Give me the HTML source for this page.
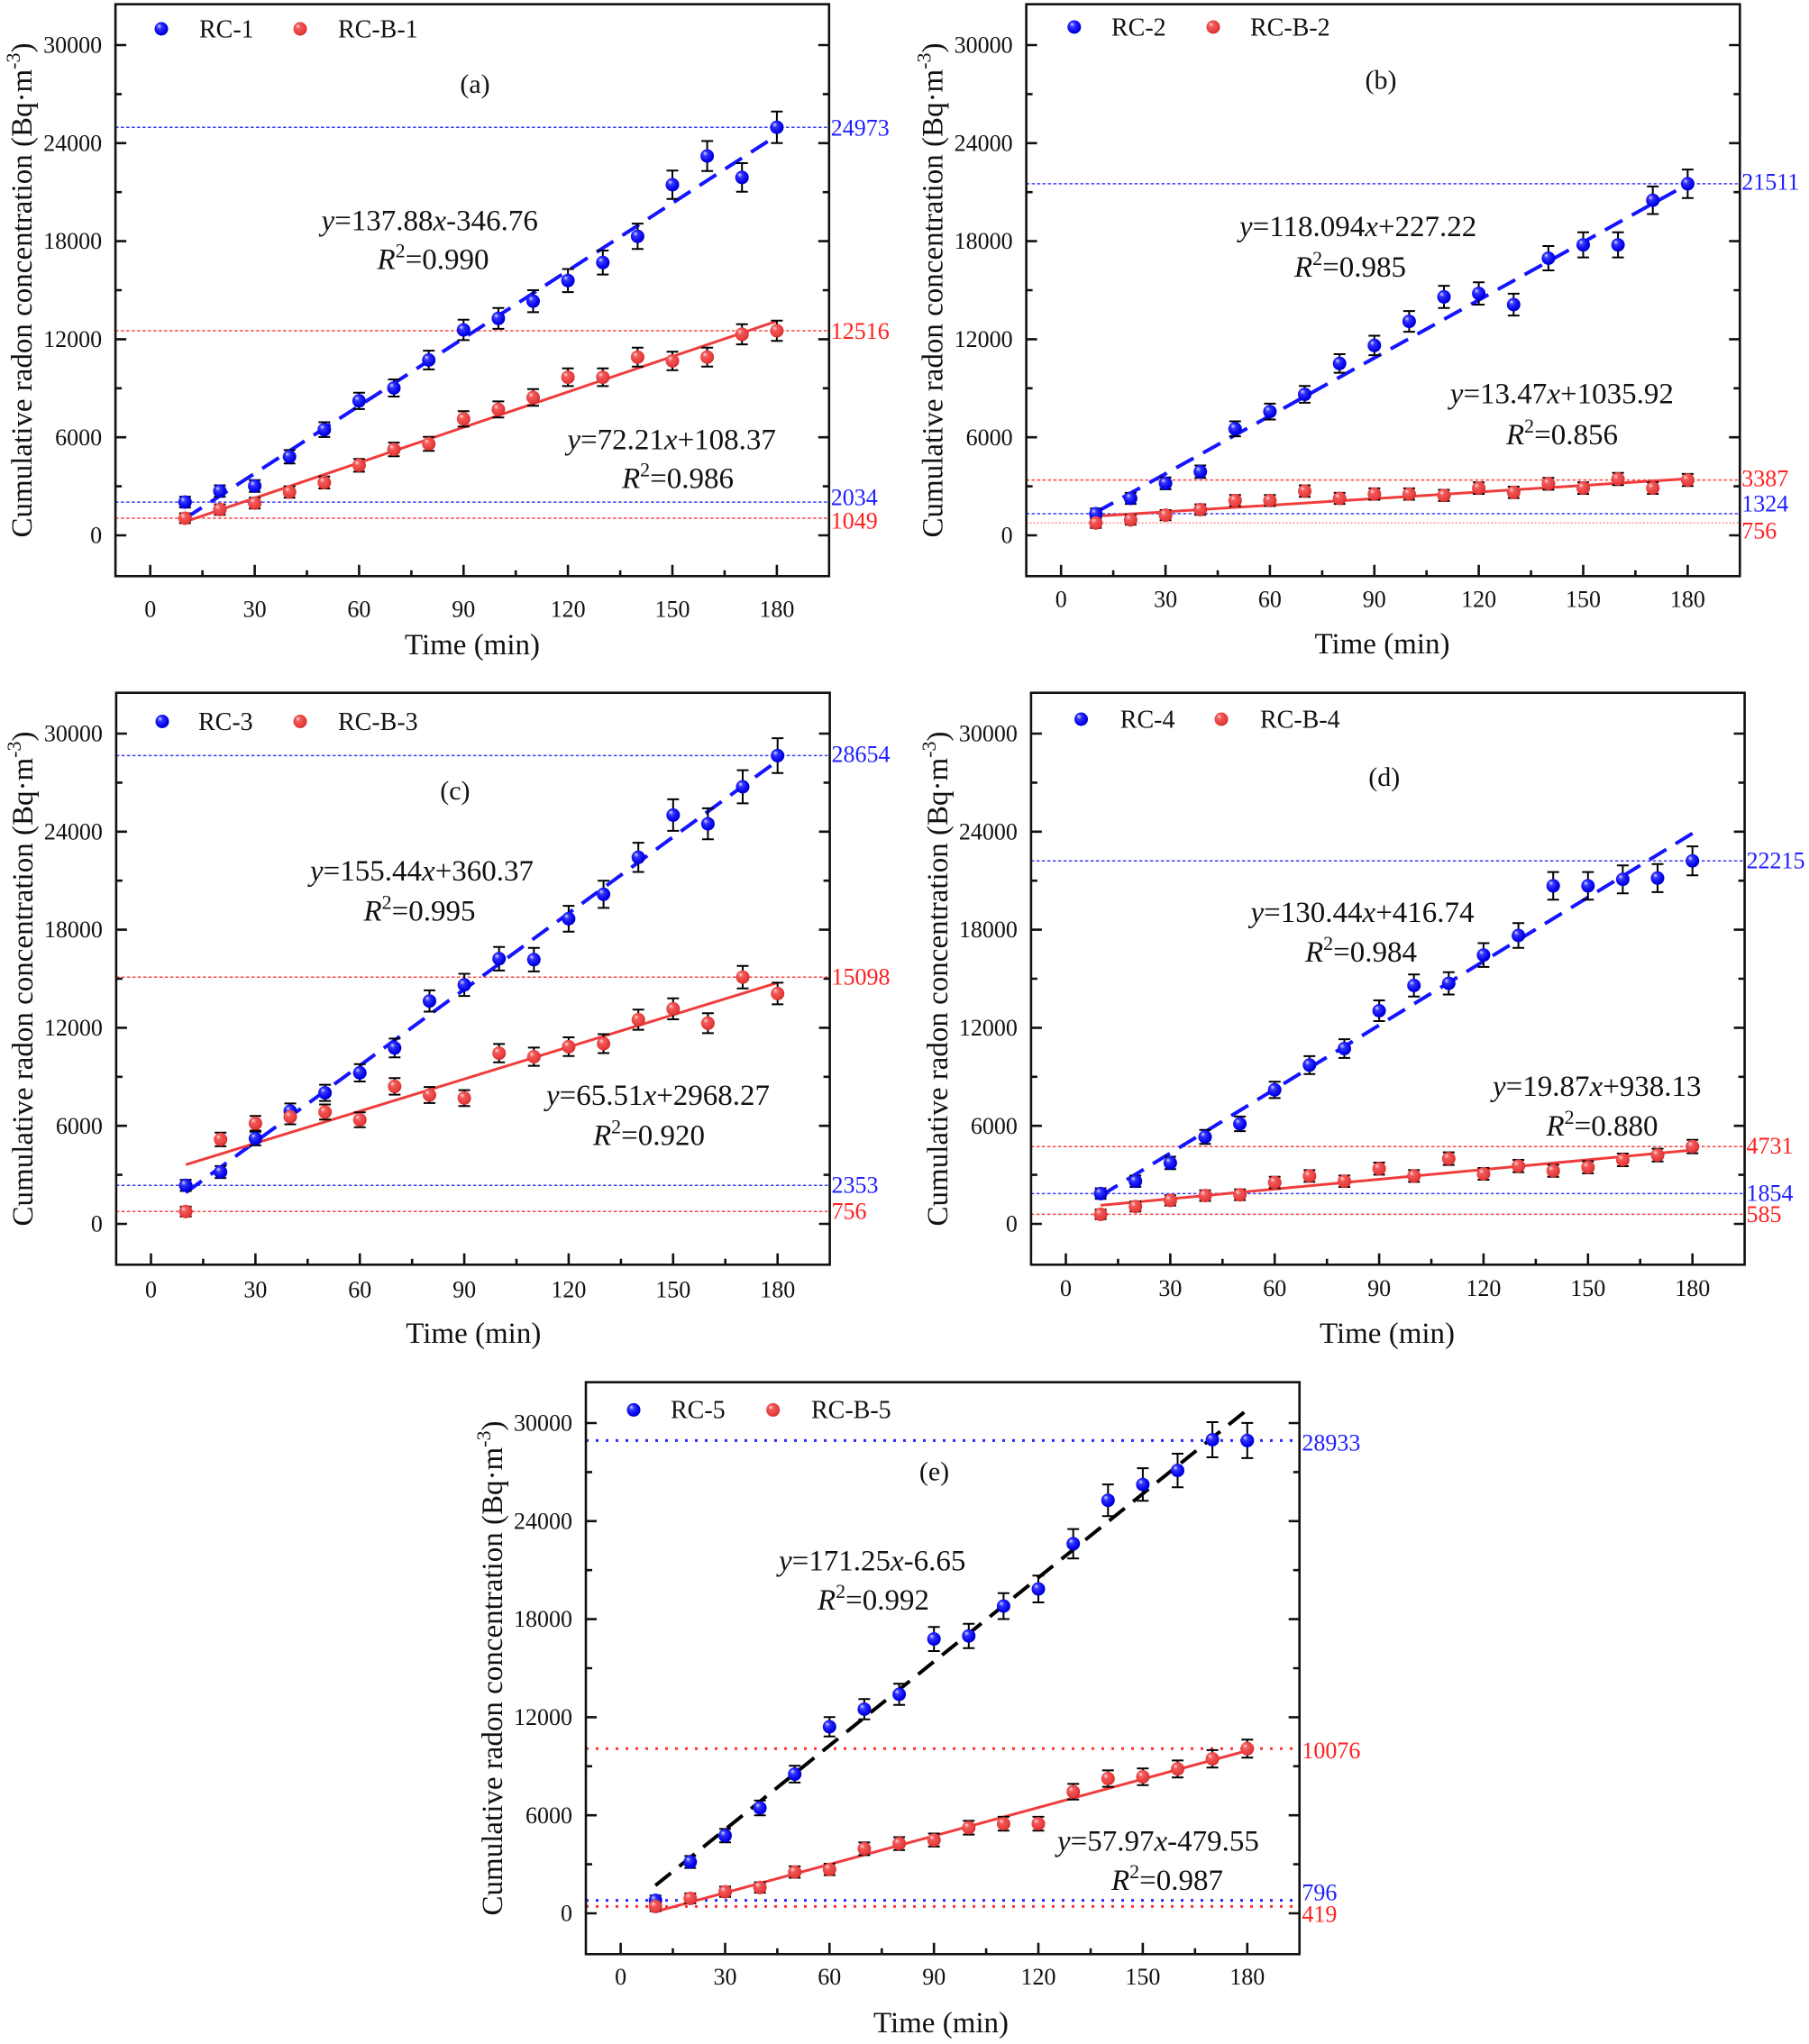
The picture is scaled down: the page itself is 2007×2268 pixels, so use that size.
<!DOCTYPE html>
<html><head><meta charset="utf-8"><style>
html,body{margin:0;padding:0;background:#fff;}
svg{display:block;font-family:"Liberation Serif","Times New Roman",serif;}
.tk{font-size:26px;fill:#111;}
.ttl{font-size:33px;fill:#111;}
.eq{font-size:33px;fill:#111;}
.lg{font-size:28px;fill:#111;}
.pl{font-size:30px;fill:#111;}
.rb{font-size:26px;fill:#1e1eff;}
.rr{font-size:26px;fill:#ff2020;}
.eb{fill:none;stroke:#000;stroke-width:2;}
.rfb{stroke:#3a3aff;stroke-width:1.5;stroke-dasharray:3.5 2.5;}
.rfr{stroke:#ff4040;stroke-width:1.5;stroke-dasharray:3.5 2.5;}
.rfb2{stroke:#2a2aff;stroke-width:3;stroke-dasharray:3 8;}
.rfr2{stroke:#ff3030;stroke-width:3;stroke-dasharray:3 8;}
.tb{stroke:#1414ff;stroke-width:4;stroke-dasharray:22 12;fill:none;}
.tk2{stroke:#000;stroke-width:4;stroke-dasharray:22 12;fill:none;}
.tr{stroke:#f03c3c;stroke-width:3;fill:none;}
</style></head><body>
<svg width="2007" height="2268" viewBox="0 0 2007 2268" xmlns="http://www.w3.org/2000/svg">
<defs>
<radialGradient id="gb" cx="0.45" cy="0.45" r="0.6" fx="0.32" fy="0.28">
<stop offset="0" stop-color="#e0e0ff"/><stop offset="0.3" stop-color="#3535ff"/><stop offset="0.8" stop-color="#0000e8"/><stop offset="1" stop-color="#0000a8"/>
</radialGradient>
<radialGradient id="gr" cx="0.45" cy="0.45" r="0.6" fx="0.32" fy="0.28">
<stop offset="0" stop-color="#ffe0e0"/><stop offset="0.3" stop-color="#f25a5a"/><stop offset="0.8" stop-color="#e63a3a"/><stop offset="1" stop-color="#b82020"/>
</radialGradient>
<g id="axes">
<rect x="-38.6" y="-589.3" width="791.7" height="634.6" fill="none" stroke="#111" stroke-width="2.6"/>
<path fill="none" stroke="#111" stroke-width="2.6" d="M-38.6 0h12M-38.6 -108.8h12M-38.6 -217.6h12M-38.6 -326.4h12M-38.6 -435.2h12M-38.6 -544h12M-38.6 -54.4h7M-38.6 -163.2h7M-38.6 -272h7M-38.6 -380.8h7M-38.6 -489.6h7M753.1 0h-12M753.1 -108.8h-12M753.1 -217.6h-12M753.1 -326.4h-12M753.1 -435.2h-12M753.1 -544h-12M753.1 -54.4h-7M753.1 -163.2h-7M753.1 -272h-7M753.1 -380.8h-7M753.1 -489.6h-7M0 45.3v-12.5M115.9 45.3v-12.5M231.7 45.3v-12.5M347.6 45.3v-12.5M463.4 45.3v-12.5M579.3 45.3v-12.5M695.2 45.3v-12.5M57.9 45.3v-6.5M173.8 45.3v-6.5M289.7 45.3v-6.5M405.5 45.3v-6.5M521.4 45.3v-6.5M637.2 45.3v-6.5"/>
</g>
</defs>
<rect width="2007" height="2268" fill="#fff"/>

<!-- ================= PANEL A ================= -->
<g transform="translate(166.7,594)">
<line class="rfb" x1="-38.6" x2="753.1" y1="-452.8" y2="-452.8"/>
<line class="rfr" x1="-38.6" x2="753.1" y1="-227" y2="-227"/>
<line class="rfb" x1="-38.6" x2="753.1" y1="-36.9" y2="-36.9"/>
<line class="rfr" x1="-38.6" x2="753.1" y1="-19" y2="-19"/>
<use href="#axes"/>
<g class="tk" text-anchor="end"><text x="-53.6" y="8.6">0</text><text x="-53.6" y="-100.2">6000</text><text x="-53.6" y="-209">12000</text><text x="-53.6" y="-317.8">18000</text><text x="-53.6" y="-426.6">24000</text><text x="-53.6" y="-535.4">30000</text></g>
<g class="tk" text-anchor="middle"><text x="0" y="90.6">0</text><text x="115.9" y="90.6">30</text><text x="231.7" y="90.6">60</text><text x="347.6" y="90.6">90</text><text x="463.4" y="90.6">120</text><text x="579.3" y="90.6">150</text><text x="695.2" y="90.6">180</text></g>
<text class="ttl" x="357.3" y="132" text-anchor="middle">Time (min)</text>
<text class="ttl" transform="translate(-131.6,-272) rotate(-90)" text-anchor="middle">Cumulative radon concentration (Bq·m<tspan font-size="22" dy="-13">-3</tspan><tspan dy="13">)</tspan></text>
<text class="pl" x="360.3" y="-491" text-anchor="middle">(a)</text>
<circle cx="12.3" cy="-562" r="7.5" fill="url(#gb)"/><text class="lg" x="54.3" y="-552.7">RC-1</text>
<circle cx="166.3" cy="-562" r="7.5" fill="url(#gr)"/><text class="lg" x="208.3" y="-552.7">RC-B-1</text>
<text class="eq" x="189.8" y="-338.5"><tspan font-style="italic">y</tspan>=137.88<tspan font-style="italic">x</tspan>-346.76</text>
<text class="eq" x="251.8" y="-295.6"><tspan font-style="italic">R</tspan><tspan font-size="22" dy="-13">2</tspan><tspan dy="13">=0.990</tspan></text>
<text class="eq" x="462.7" y="-95.3"><tspan font-style="italic">y</tspan>=72.21<tspan font-style="italic">x</tspan>+108.37</text>
<text class="eq" x="523.3" y="-52.4"><tspan font-style="italic">R</tspan><tspan font-size="22" dy="-13">2</tspan><tspan dy="13">=0.986</tspan></text>
<text class="rb" x="755" y="-443.4">24973</text><text class="rr" x="755" y="-217.9">12516</text><text class="rb" x="755" y="-33.4">2034</text><text class="rr" x="755" y="-7.4">1049</text>
<path class="tb" d="M38.6 -18.7L695.2 -443.7"/>
<path class="tr" d="M38.6 -15.1L695.2 -237.7"/>
<path class="eb" d="M38.6 -42.9v12m-6.5 0h13m-13 -12h13M77.2 -55.5v12.8m-6.5 0h13m-13 -12.8h13M115.9 -61.3v13m-6.5 0h13m-13 -13h13M154.5 -94.6v14.8m-6.5 0h13m-13 -14.8h13M193.1 -125.5v16.4m-6.5 0h13m-13 -16.4h13M231.7 -158.3v18.2m-6.5 0h13m-13 -18.2h13M270.3 -173v19m-6.5 0h13m-13 -19h13M309 -204.9v20.8m-6.5 0h13m-13 -20.8h13M347.6 -239.2v22.6m-6.5 0h13m-13 -22.6h13M386.2 -252.3v23.2m-6.5 0h13m-13 -23.2h13M424.8 -272v24.4m-6.5 0h13m-13 -24.4h13M463.4 -295.5v25.6m-6.5 0h13m-13 -25.6h13M502.1 -316v26.6m-6.5 0h13m-13 -26.6h13M540.7 -345.9v28.2m-6.5 0h13m-13 -28.2h13M579.3 -404.7v31.4m-6.5 0h13m-13 -31.4h13M617.9 -437.5v33.2m-6.5 0h13m-13 -33.2h13M656.5 -413v31.8m-6.5 0h13m-13 -31.8h13M695.2 -470.3v35m-6.5 0h13m-13 -35h13"/>
<path class="eb" d="M38.6 -24.5v11m-6.5 0h13m-13 -11h13M77.2 -34.4v11.6m-6.5 0h13m-13 -11.6h13M115.9 -41.8v12m-6.5 0h13m-13 -12h13M154.5 -54.4v12.6m-6.5 0h13m-13 -12.6h13M193.1 -65.2v13.2m-6.5 0h13m-13 -13.2h13M231.7 -84.8v14.2m-6.5 0h13m-13 -14.2h13M270.3 -102.9v15.2m-6.5 0h13m-13 -15.2h13M309 -109.3v15.6m-6.5 0h13m-13 -15.6h13M347.6 -137.8v17.2m-6.5 0h13m-13 -17.2h13M386.2 -148.6v17.8m-6.5 0h13m-13 -17.8h13M424.8 -162.2v18.4m-6.5 0h13m-13 -18.4h13M463.4 -185.2v19.6m-6.5 0h13m-13 -19.6h13M502.1 -185.2v19.6m-6.5 0h13m-13 -19.6h13M540.7 -208.3v21m-6.5 0h13m-13 -21h13M579.3 -203.8v20.6m-6.5 0h13m-13 -20.6h13M617.9 -208.3v21m-6.5 0h13m-13 -21h13M656.5 -234.3v22.4m-6.5 0h13m-13 -22.4h13M695.2 -238.3v22.6m-6.5 0h13m-13 -22.6h13"/>
<g fill="url(#gb)"><circle cx="38.6" cy="-36.9" r="7.5"/><circle cx="77.2" cy="-49.1" r="7.5"/><circle cx="115.9" cy="-54.8" r="7.5"/><circle cx="154.5" cy="-87.2" r="7.5"/><circle cx="193.1" cy="-117.3" r="7.5"/><circle cx="231.7" cy="-149.2" r="7.5"/><circle cx="270.3" cy="-163.5" r="7.5"/><circle cx="309" cy="-194.5" r="7.5"/><circle cx="347.6" cy="-227.9" r="7.5"/><circle cx="386.2" cy="-240.7" r="7.5"/><circle cx="424.8" cy="-259.8" r="7.5"/><circle cx="463.4" cy="-282.7" r="7.5"/><circle cx="502.1" cy="-302.7" r="7.5"/><circle cx="540.7" cy="-331.8" r="7.5"/><circle cx="579.3" cy="-389" r="7.5"/><circle cx="617.9" cy="-420.9" r="7.5"/><circle cx="656.5" cy="-397.1" r="7.5"/><circle cx="695.2" cy="-452.8" r="7.5"/></g>
<g fill="url(#gr)"><circle cx="38.6" cy="-19" r="7.5"/><circle cx="77.2" cy="-28.6" r="7.5"/><circle cx="115.9" cy="-35.8" r="7.5"/><circle cx="154.5" cy="-48.1" r="7.5"/><circle cx="193.1" cy="-58.6" r="7.5"/><circle cx="231.7" cy="-77.7" r="7.5"/><circle cx="270.3" cy="-95.3" r="7.5"/><circle cx="309" cy="-101.5" r="7.5"/><circle cx="347.6" cy="-129.2" r="7.5"/><circle cx="386.2" cy="-139.7" r="7.5"/><circle cx="424.8" cy="-153" r="7.5"/><circle cx="463.4" cy="-175.4" r="7.5"/><circle cx="502.1" cy="-175.4" r="7.5"/><circle cx="540.7" cy="-197.8" r="7.5"/><circle cx="579.3" cy="-193.5" r="7.5"/><circle cx="617.9" cy="-197.8" r="7.5"/><circle cx="656.5" cy="-223.1" r="7.5"/><circle cx="695.2" cy="-227" r="7.5"/></g>
</g>

<!-- ================= PANEL B ================= -->
<g transform="translate(1177.2,594)">
<line class="rfb" x1="-38.6" x2="753.1" y1="-390.1" y2="-390.1"/>
<line class="rfr" x1="-38.6" x2="753.1" y1="-61.4" y2="-61.4"/>
<line class="rfb" x1="-38.6" x2="753.1" y1="-24" y2="-24"/>
<line class="rfr" x1="-38.6" x2="753.1" y1="-13.7" y2="-13.7" style="stroke-dasharray:2 2;opacity:0.6"/>
<use href="#axes"/>
<g class="tk" text-anchor="end"><text x="-53.6" y="8.6">0</text><text x="-53.6" y="-100.2">6000</text><text x="-53.6" y="-209">12000</text><text x="-53.6" y="-317.8">18000</text><text x="-53.6" y="-426.6">24000</text><text x="-53.6" y="-535.4">30000</text></g>
<g class="tk" text-anchor="middle"><text x="0" y="79.6">0</text><text x="115.9" y="79.6">30</text><text x="231.7" y="79.6">60</text><text x="347.6" y="79.6">90</text><text x="463.4" y="79.6">120</text><text x="579.3" y="79.6">150</text><text x="695.2" y="79.6">180</text></g>
<text class="ttl" x="356.3" y="131" text-anchor="middle">Time (min)</text>
<text class="ttl" transform="translate(-131.6,-272) rotate(-90)" text-anchor="middle">Cumulative radon concentration (Bq·m<tspan font-size="22" dy="-13">-3</tspan><tspan dy="13">)</tspan></text>
<text class="pl" x="354.8" y="-495.4" text-anchor="middle">(b)</text>
<circle cx="14.6" cy="-564" r="7.5" fill="url(#gb)"/><text class="lg" x="55.8" y="-554.7">RC-2</text>
<circle cx="168.8" cy="-564" r="7.5" fill="url(#gr)"/><text class="lg" x="209.8" y="-554.7">RC-B-2</text>
<text class="eq" x="197.8" y="-332"><tspan font-style="italic">y</tspan>=118.094<tspan font-style="italic">x</tspan>+227.22</text>
<text class="eq" x="258.8" y="-287"><tspan font-style="italic">R</tspan><tspan font-size="22" dy="-13">2</tspan><tspan dy="13">=0.985</tspan></text>
<text class="eq" x="431.6" y="-146.5"><tspan font-style="italic">y</tspan>=13.47<tspan font-style="italic">x</tspan>+1035.92</text>
<text class="eq" x="493.8" y="-101"><tspan font-style="italic">R</tspan><tspan font-size="22" dy="-13">2</tspan><tspan dy="13">=0.856</tspan></text>
<text class="rb" x="755" y="-383.4">21511</text><text class="rr" x="755" y="-54.4">3387</text><text class="rb" x="755" y="-26.4">1324</text><text class="rr" x="755" y="3.6">756</text>
<path class="tb" d="M38.6 -25.5L695.2 -389.6"/>
<path class="tr" d="M38.6 -21.2L695.2 -62.7"/>
<path class="eb" d="M38.6 -29.7v11.4m-6.5 0h13m-13 -11.4h13M77.2 -47.1v12.2m-6.5 0h13m-13 -12.2h13M115.9 -64.3v13.2m-6.5 0h13m-13 -13.2h13M154.5 -77.5v13.8m-6.5 0h13m-13 -13.8h13M193.1 -126.5v16.6m-6.5 0h13m-13 -16.6h13M231.7 -146.1v17.6m-6.5 0h13m-13 -17.6h13M270.3 -165.7v18.6m-6.5 0h13m-13 -18.6h13M309 -201v20.6m-6.5 0h13m-13 -20.6h13M347.6 -221.5v21.6m-6.5 0h13m-13 -21.6h13M386.2 -248.9v23m-6.5 0h13m-13 -23h13M424.8 -276.9v24.6m-6.5 0h13m-13 -24.6h13M463.4 -280.8v24.8m-6.5 0h13m-13 -24.8h13M502.1 -268.1v24.2m-6.5 0h13m-13 -24.2h13M540.7 -321v27m-6.5 0h13m-13 -27h13M579.3 -336.2v27.8m-6.5 0h13m-13 -27.8h13M617.9 -336.2v27.8m-6.5 0h13m-13 -27.8h13M656.5 -387.1v30.6m-6.5 0h13m-13 -30.6h13M695.2 -405.9v31.6m-6.5 0h13m-13 -31.6h13"/>
<path class="eb" d="M38.6 -19.1v10.8m-6.5 0h13m-13 -10.8h13M77.2 -22.7v11m-6.5 0h13m-13 -11h13M115.9 -28v11.2m-6.5 0h13m-13 -11.2h13M154.5 -34.4v11.6m-6.5 0h13m-13 -11.6h13M193.1 -44.7v12.2m-6.5 0h13m-13 -12.2h13M231.7 -44.7v12.2m-6.5 0h13m-13 -12.2h13M270.3 -55.5v12.8m-6.5 0h13m-13 -12.8h13M309 -47.1v12.2m-6.5 0h13m-13 -12.2h13M347.6 -52.1v12.6m-6.5 0h13m-13 -12.6h13M386.2 -52.1v12.6m-6.5 0h13m-13 -12.6h13M424.8 -50.5v12.4m-6.5 0h13m-13 -12.4h13M463.4 -58.8v12.8m-6.5 0h13m-13 -12.8h13M502.1 -54v12.6m-6.5 0h13m-13 -12.6h13M540.7 -63.8v13.2m-6.5 0h13m-13 -13.2h13M579.3 -58.8v12.8m-6.5 0h13m-13 -12.8h13M617.9 -69.2v13.4m-6.5 0h13m-13 -13.4h13M656.5 -58.8v12.8m-6.5 0h13m-13 -12.8h13M695.2 -68.1v13.4m-6.5 0h13m-13 -13.4h13"/>
<g fill="url(#gb)"><circle cx="38.6" cy="-24" r="7.5"/><circle cx="77.2" cy="-41" r="7.5"/><circle cx="115.9" cy="-57.7" r="7.5"/><circle cx="154.5" cy="-70.6" r="7.5"/><circle cx="193.1" cy="-118.2" r="7.5"/><circle cx="231.7" cy="-137.3" r="7.5"/><circle cx="270.3" cy="-156.4" r="7.5"/><circle cx="309" cy="-190.7" r="7.5"/><circle cx="347.6" cy="-210.7" r="7.5"/><circle cx="386.2" cy="-237.4" r="7.5"/><circle cx="424.8" cy="-264.6" r="7.5"/><circle cx="463.4" cy="-268.4" r="7.5"/><circle cx="502.1" cy="-256" r="7.5"/><circle cx="540.7" cy="-307.5" r="7.5"/><circle cx="579.3" cy="-322.3" r="7.5"/><circle cx="617.9" cy="-322.3" r="7.5"/><circle cx="656.5" cy="-371.8" r="7.5"/><circle cx="695.2" cy="-390.1" r="7.5"/></g>
<g fill="url(#gr)"><circle cx="38.6" cy="-13.7" r="7.5"/><circle cx="77.2" cy="-17.2" r="7.5"/><circle cx="115.9" cy="-22.4" r="7.5"/><circle cx="154.5" cy="-28.6" r="7.5"/><circle cx="193.1" cy="-38.6" r="7.5"/><circle cx="231.7" cy="-38.6" r="7.5"/><circle cx="270.3" cy="-49.1" r="7.5"/><circle cx="309" cy="-41" r="7.5"/><circle cx="347.6" cy="-45.8" r="7.5"/><circle cx="386.2" cy="-45.8" r="7.5"/><circle cx="424.8" cy="-44.3" r="7.5"/><circle cx="463.4" cy="-52.4" r="7.5"/><circle cx="502.1" cy="-47.7" r="7.5"/><circle cx="540.7" cy="-57.2" r="7.5"/><circle cx="579.3" cy="-52.4" r="7.5"/><circle cx="617.9" cy="-62.5" r="7.5"/><circle cx="656.5" cy="-52.4" r="7.5"/><circle cx="695.2" cy="-61.4" r="7.5"/></g>
</g>

<!-- ================= PANEL C ================= -->
<g transform="translate(167.5,1358)">
<line class="rfb" x1="-38.6" x2="753.1" y1="-519.6" y2="-519.6"/>
<line class="rfr" x1="-38.6" x2="753.1" y1="-273.8" y2="-273.8"/>
<line class="rfb" x1="-38.6" x2="753.1" y1="-42.7" y2="-42.7"/>
<line class="rfr" x1="-38.6" x2="753.1" y1="-13.7" y2="-13.7"/>
<use href="#axes"/>
<g class="tk" text-anchor="end"><text x="-53.6" y="8.6">0</text><text x="-53.6" y="-100.2">6000</text><text x="-53.6" y="-209">12000</text><text x="-53.6" y="-317.8">18000</text><text x="-53.6" y="-426.6">24000</text><text x="-53.6" y="-535.4">30000</text></g>
<g class="tk" text-anchor="middle"><text x="0" y="81.5">0</text><text x="115.9" y="81.5">30</text><text x="231.7" y="81.5">60</text><text x="347.6" y="81.5">90</text><text x="463.4" y="81.5">120</text><text x="579.3" y="81.5">150</text><text x="695.2" y="81.5">180</text></g>
<text class="ttl" x="357.8" y="132" text-anchor="middle">Time (min)</text>
<text class="ttl" transform="translate(-131.6,-272) rotate(-90)" text-anchor="middle">Cumulative radon concentration (Bq·m<tspan font-size="22" dy="-13">-3</tspan><tspan dy="13">)</tspan></text>
<text class="pl" x="337.4" y="-471.2" text-anchor="middle">(c)</text>
<circle cx="12.5" cy="-557.5" r="7.5" fill="url(#gb)"/><text class="lg" x="52.5" y="-548.2">RC-3</text>
<circle cx="165.5" cy="-557.5" r="7.5" fill="url(#gr)"/><text class="lg" x="207.5" y="-548.2">RC-B-3</text>
<text class="eq" x="176.5" y="-381"><tspan font-style="italic">y</tspan>=155.44<tspan font-style="italic">x</tspan>+360.37</text>
<text class="eq" x="236" y="-336.5"><tspan font-style="italic">R</tspan><tspan font-size="22" dy="-13">2</tspan><tspan dy="13">=0.995</tspan></text>
<text class="eq" x="438.5" y="-132"><tspan font-style="italic">y</tspan>=65.51<tspan font-style="italic">x</tspan>+2968.27</text>
<text class="eq" x="490.5" y="-87.5"><tspan font-style="italic">R</tspan><tspan font-size="22" dy="-13">2</tspan><tspan dy="13">=0.920</tspan></text>
<text class="rb" x="755" y="-512.4">28654</text><text class="rr" x="755" y="-265.4">15098</text><text class="rb" x="755" y="-34.4">2353</text><text class="rr" x="755" y="-5.4">756</text>
<path class="tb" d="M38.6 -34.7L695.2 -513.9"/>
<path class="tr" d="M38.6 -65.7L695.2 -267.6"/>
<path class="eb" d="M38.6 -48.9v12.4m-6.5 0h13m-13 -12.4h13M77.2 -64.1v13.2m-6.5 0h13m-13 -13.2h13M115.9 -102.3v15.2m-6.5 0h13m-13 -15.2h13M154.5 -133.6v17m-6.5 0h13m-13 -17h13M193.1 -154.4v18m-6.5 0h13m-13 -18h13M231.7 -177.2v19.2m-6.5 0h13m-13 -19.2h13M270.3 -205.6v20.8m-6.5 0h13m-13 -20.8h13M309 -259.1v23.6m-6.5 0h13m-13 -23.6h13M347.6 -277.5v24.6m-6.5 0h13m-13 -24.6h13M386.2 -307.3v26.2m-6.5 0h13m-13 -26.2h13M424.8 -306.3v26.2m-6.5 0h13m-13 -26.2h13M463.4 -352.9v28.6m-6.5 0h13m-13 -28.6h13M502.1 -380.8v30.2m-6.5 0h13m-13 -30.2h13M540.7 -422.9v32.4m-6.5 0h13m-13 -32.4h13M579.3 -471.1v35m-6.5 0h13m-13 -35h13M617.9 -461.1v34.4m-6.5 0h13m-13 -34.4h13M656.5 -503.4v36.8m-6.5 0h13m-13 -36.8h13M695.2 -538.9v38.6m-6.5 0h13m-13 -38.6h13"/>
<path class="eb" d="M38.6 -19.1v10.8m-6.5 0h13m-13 -10.8h13M77.2 -101.3v15.2m-6.5 0h13m-13 -15.2h13M115.9 -119.7v16.2m-6.5 0h13m-13 -16.2h13M154.5 -127.1v16.6m-6.5 0h13m-13 -16.6h13M193.1 -132.5v16.8m-6.5 0h13m-13 -16.8h13M231.7 -123.7v16.4m-6.5 0h13m-13 -16.4h13M270.3 -161.8v18.4m-6.5 0h13m-13 -18.4h13M309 -151.9v17.8m-6.5 0h13m-13 -17.8h13M347.6 -148.4v17.6m-6.5 0h13m-13 -17.6h13M386.2 -199.6v20.4m-6.5 0h13m-13 -20.4h13M424.8 -195.6v20.2m-6.5 0h13m-13 -20.2h13M463.4 -207v20.8m-6.5 0h13m-13 -20.8h13M502.1 -210.5v21m-6.5 0h13m-13 -21h13M540.7 -237.8v22.4m-6.5 0h13m-13 -22.4h13M579.3 -250.2v23.2m-6.5 0h13m-13 -23.2h13M617.9 -233.8v22.2m-6.5 0h13m-13 -22.2h13M656.5 -286.3v25m-6.5 0h13m-13 -25h13M695.2 -267.6v24m-6.5 0h13m-13 -24h13"/>
<g fill="url(#gb)"><circle cx="38.6" cy="-42.7" r="7.5"/><circle cx="77.2" cy="-57.5" r="7.5"/><circle cx="115.9" cy="-94.7" r="7.5"/><circle cx="154.5" cy="-125.1" r="7.5"/><circle cx="193.1" cy="-145.4" r="7.5"/><circle cx="231.7" cy="-167.6" r="7.5"/><circle cx="270.3" cy="-195.2" r="7.5"/><circle cx="309" cy="-247.3" r="7.5"/><circle cx="347.6" cy="-265.2" r="7.5"/><circle cx="386.2" cy="-294.2" r="7.5"/><circle cx="424.8" cy="-293.2" r="7.5"/><circle cx="463.4" cy="-338.6" r="7.5"/><circle cx="502.1" cy="-365.7" r="7.5"/><circle cx="540.7" cy="-406.7" r="7.5"/><circle cx="579.3" cy="-453.6" r="7.5"/><circle cx="617.9" cy="-443.9" r="7.5"/><circle cx="656.5" cy="-485" r="7.5"/><circle cx="695.2" cy="-519.6" r="7.5"/></g>
<g fill="url(#gr)"><circle cx="38.6" cy="-13.7" r="7.5"/><circle cx="77.2" cy="-93.7" r="7.5"/><circle cx="115.9" cy="-111.6" r="7.5"/><circle cx="154.5" cy="-118.8" r="7.5"/><circle cx="193.1" cy="-124.1" r="7.5"/><circle cx="231.7" cy="-115.5" r="7.5"/><circle cx="270.3" cy="-152.6" r="7.5"/><circle cx="309" cy="-143" r="7.5"/><circle cx="347.6" cy="-139.6" r="7.5"/><circle cx="386.2" cy="-189.4" r="7.5"/><circle cx="424.8" cy="-185.5" r="7.5"/><circle cx="463.4" cy="-196.6" r="7.5"/><circle cx="502.1" cy="-200" r="7.5"/><circle cx="540.7" cy="-226.6" r="7.5"/><circle cx="579.3" cy="-238.6" r="7.5"/><circle cx="617.9" cy="-222.7" r="7.5"/><circle cx="656.5" cy="-273.8" r="7.5"/><circle cx="695.2" cy="-255.6" r="7.5"/></g>
</g>

<!-- ================= PANEL D ================= -->
<g transform="translate(1182.5,1358)">
<line class="rfb" x1="-38.6" x2="753.1" y1="-402.8" y2="-402.8"/>
<line class="rfr" x1="-38.6" x2="753.1" y1="-85.8" y2="-85.8"/>
<line class="rfb" x1="-38.6" x2="753.1" y1="-33.6" y2="-33.6"/>
<line class="rfr" x1="-38.6" x2="753.1" y1="-10.6" y2="-10.6"/>
<use href="#axes"/>
<g class="tk" text-anchor="end"><text x="-53.6" y="8.6">0</text><text x="-53.6" y="-100.2">6000</text><text x="-53.6" y="-209">12000</text><text x="-53.6" y="-317.8">18000</text><text x="-53.6" y="-426.6">24000</text><text x="-53.6" y="-535.4">30000</text></g>
<g class="tk" text-anchor="middle"><text x="0" y="80">0</text><text x="115.9" y="80">30</text><text x="231.7" y="80">60</text><text x="347.6" y="80">90</text><text x="463.4" y="80">120</text><text x="579.3" y="80">150</text><text x="695.2" y="80">180</text></g>
<text class="ttl" x="356.5" y="132" text-anchor="middle">Time (min)</text>
<text class="ttl" transform="translate(-131.6,-272) rotate(-90)" text-anchor="middle">Cumulative radon concentration (Bq·m<tspan font-size="22" dy="-13">-3</tspan><tspan dy="13">)</tspan></text>
<text class="pl" x="353.2" y="-486" text-anchor="middle">(d)</text>
<circle cx="17" cy="-560" r="7.5" fill="url(#gb)"/><text class="lg" x="60.3" y="-550.7">RC-4</text>
<circle cx="172.5" cy="-560" r="7.5" fill="url(#gr)"/><text class="lg" x="215.5" y="-550.7">RC-B-4</text>
<text class="eq" x="205" y="-335"><tspan font-style="italic">y</tspan>=130.44<tspan font-style="italic">x</tspan>+416.74</text>
<text class="eq" x="265.5" y="-291"><tspan font-style="italic">R</tspan><tspan font-size="22" dy="-13">2</tspan><tspan dy="13">=0.984</tspan></text>
<text class="eq" x="473.5" y="-142"><tspan font-style="italic">y</tspan>=19.87<tspan font-style="italic">x</tspan>+938.13</text>
<text class="eq" x="533" y="-98"><tspan font-style="italic">R</tspan><tspan font-size="22" dy="-13">2</tspan><tspan dy="13">=0.880</tspan></text>
<text class="rb" x="755" y="-394.4">22215</text><text class="rr" x="755" y="-77.9">4731</text><text class="rb" x="755" y="-25.4">1854</text><text class="rr" x="755" y="-1.9">585</text>
<path class="tb" d="M38.6 -31.2L695.2 -433.3"/>
<path class="tr" d="M38.6 -20.6L695.2 -81.9"/>
<path class="eb" d="M38.6 -39.5v11.8m-6.5 0h13m-13 -11.8h13M77.2 -53.6v12.6m-6.5 0h13m-13 -12.6h13M115.9 -74.5v13.8m-6.5 0h13m-13 -13.8h13M154.5 -104.2v15.4m-6.5 0h13m-13 -15.4h13M193.1 -119.1v16.2m-6.5 0h13m-13 -16.2h13M231.7 -157.8v18.2m-6.5 0h13m-13 -18.2h13M270.3 -186.1v19.8m-6.5 0h13m-13 -19.8h13M309 -204.9v20.8m-6.5 0h13m-13 -20.8h13M347.6 -248v23m-6.5 0h13m-13 -23h13M386.2 -276.8v24.6m-6.5 0h13m-13 -24.6h13M424.8 -279.3v24.8m-6.5 0h13m-13 -24.8h13M463.4 -311.5v26.4m-6.5 0h13m-13 -26.4h13M502.1 -333.8v27.6m-6.5 0h13m-13 -27.6h13M540.7 -390.4v30.6m-6.5 0h13m-13 -30.6h13M579.3 -390.4v30.6m-6.5 0h13m-13 -30.6h13M617.9 -397.8v31m-6.5 0h13m-13 -31h13M656.5 -399.3v31.2m-6.5 0h13m-13 -31.2h13M695.2 -418.9v32.2m-6.5 0h13m-13 -32.2h13"/>
<path class="eb" d="M38.6 -15.9v10.6m-6.5 0h13m-13 -10.6h13M77.2 -24.8v11m-6.5 0h13m-13 -11h13M115.9 -31.8v11.4m-6.5 0h13m-13 -11.4h13M154.5 -37.3v11.8m-6.5 0h13m-13 -11.8h13M193.1 -38.2v11.8m-6.5 0h13m-13 -11.8h13M231.7 -52.2v12.6m-6.5 0h13m-13 -12.6h13M270.3 -59.6v13m-6.5 0h13m-13 -13h13M309 -53.6v12.6m-6.5 0h13m-13 -12.6h13M347.6 -68v13.4m-6.5 0h13m-13 -13.4h13M386.2 -59.6v13m-6.5 0h13m-13 -13h13M424.8 -79.4v14m-6.5 0h13m-13 -14h13M463.4 -62v13m-6.5 0h13m-13 -13h13M502.1 -71v13.6m-6.5 0h13m-13 -13.6h13M540.7 -65.5v13.2m-6.5 0h13m-13 -13.2h13M579.3 -69.5v13.4m-6.5 0h13m-13 -13.4h13M617.9 -78v14m-6.5 0h13m-13 -14h13M656.5 -83.4v14.2m-6.5 0h13m-13 -14.2h13M695.2 -93.2v14.8m-6.5 0h13m-13 -14.8h13"/>
<g fill="url(#gb)"><circle cx="38.6" cy="-33.6" r="7.5"/><circle cx="77.2" cy="-47.3" r="7.5"/><circle cx="115.9" cy="-67.6" r="7.5"/><circle cx="154.5" cy="-96.5" r="7.5"/><circle cx="193.1" cy="-111" r="7.5"/><circle cx="231.7" cy="-148.7" r="7.5"/><circle cx="270.3" cy="-176.2" r="7.5"/><circle cx="309" cy="-194.5" r="7.5"/><circle cx="347.6" cy="-236.5" r="7.5"/><circle cx="386.2" cy="-264.5" r="7.5"/><circle cx="424.8" cy="-266.9" r="7.5"/><circle cx="463.4" cy="-298.3" r="7.5"/><circle cx="502.1" cy="-320" r="7.5"/><circle cx="540.7" cy="-375.1" r="7.5"/><circle cx="579.3" cy="-375.1" r="7.5"/><circle cx="617.9" cy="-382.3" r="7.5"/><circle cx="656.5" cy="-383.7" r="7.5"/><circle cx="695.2" cy="-402.8" r="7.5"/></g>
<g fill="url(#gr)"><circle cx="38.6" cy="-10.6" r="7.5"/><circle cx="77.2" cy="-19.3" r="7.5"/><circle cx="115.9" cy="-26.1" r="7.5"/><circle cx="154.5" cy="-31.4" r="7.5"/><circle cx="193.1" cy="-32.3" r="7.5"/><circle cx="231.7" cy="-45.9" r="7.5"/><circle cx="270.3" cy="-53.1" r="7.5"/><circle cx="309" cy="-47.3" r="7.5"/><circle cx="347.6" cy="-61.3" r="7.5"/><circle cx="386.2" cy="-53.1" r="7.5"/><circle cx="424.8" cy="-72.4" r="7.5"/><circle cx="463.4" cy="-55.5" r="7.5"/><circle cx="502.1" cy="-64.2" r="7.5"/><circle cx="540.7" cy="-58.9" r="7.5"/><circle cx="579.3" cy="-62.8" r="7.5"/><circle cx="617.9" cy="-71" r="7.5"/><circle cx="656.5" cy="-76.3" r="7.5"/><circle cx="695.2" cy="-85.8" r="7.5"/></g>
</g>

<!-- ================= PANEL E ================= -->
<g transform="translate(688.6,2123)">
<line class="rfb2" x1="-38.6" x2="753.1" y1="-524.6" y2="-524.6"/>
<line class="rfr2" x1="-38.6" x2="753.1" y1="-182.7" y2="-182.7"/>
<line class="rfb2" x1="-38.6" x2="753.1" y1="-14.4" y2="-14.4"/>
<line class="rfr2" x1="-38.6" x2="753.1" y1="-7.6" y2="-7.6"/>
<use href="#axes"/>
<g class="tk" text-anchor="end"><text x="-53.6" y="8.6">0</text><text x="-53.6" y="-100.2">6000</text><text x="-53.6" y="-209">12000</text><text x="-53.6" y="-317.8">18000</text><text x="-53.6" y="-426.6">24000</text><text x="-53.6" y="-535.4">30000</text></g>
<g class="tk" text-anchor="middle"><text x="0" y="79">0</text><text x="115.9" y="79">30</text><text x="231.7" y="79">60</text><text x="347.6" y="79">90</text><text x="463.4" y="79">120</text><text x="579.3" y="79">150</text><text x="695.2" y="79">180</text></g>
<text class="ttl" x="355.4" y="132" text-anchor="middle">Time (min)</text>
<text class="ttl" transform="translate(-131.6,-272) rotate(-90)" text-anchor="middle">Cumulative radon concentration (Bq·m<tspan font-size="22" dy="-13">-3</tspan><tspan dy="13">)</tspan></text>
<text class="pl" x="347.9" y="-480.4" text-anchor="middle">(e)</text>
<circle cx="14.4" cy="-558.6" r="7.5" fill="url(#gb)"/><text class="lg" x="55.4" y="-549.3">RC-5</text>
<circle cx="169" cy="-558.6" r="7.5" fill="url(#gr)"/><text class="lg" x="211.4" y="-549.3">RC-B-5</text>
<text class="eq" x="175.4" y="-380.5"><tspan font-style="italic">y</tspan>=171.25<tspan font-style="italic">x</tspan>-6.65</text>
<text class="eq" x="218.4" y="-337"><tspan font-style="italic">R</tspan><tspan font-size="22" dy="-13">2</tspan><tspan dy="13">=0.992</tspan></text>
<text class="eq" x="484.4" y="-69.5"><tspan font-style="italic">y</tspan>=57.97<tspan font-style="italic">x</tspan>-479.55</text>
<text class="eq" x="544.4" y="-26"><tspan font-style="italic">R</tspan><tspan font-size="22" dy="-13">2</tspan><tspan dy="13">=0.987</tspan></text>
<text class="rb" x="755.8" y="-513.4">28933</text><text class="rr" x="755.8" y="-171.9">10076</text><text class="rb" x="755.8" y="-14.4">796</text><text class="rr" x="755.8" y="9.6">419</text>
<path class="tk2" d="M38.6 -30.9L695.2 -558.8"/>
<path class="tr" d="M38.6 -1.8L695.2 -180.5"/>
<path class="eb" d="M38.6 -19.8v10.8m-6.5 0h13m-13 -10.8h13M77.2 -63.6v13.2m-6.5 0h13m-13 -13.2h13M115.9 -93.6v14.8m-6.5 0h13m-13 -14.8h13M154.5 -125.1v16.4m-6.5 0h13m-13 -16.4h13M193.1 -163.7v18.6m-6.5 0h13m-13 -18.6h13M231.7 -217.7v21.4m-6.5 0h13m-13 -21.4h13M270.3 -237.7v22.4m-6.5 0h13m-13 -22.4h13M309 -254.7v23.4m-6.5 0h13m-13 -23.4h13M347.6 -317.8v26.8m-6.5 0h13m-13 -26.8h13M386.2 -321.3v27m-6.5 0h13m-13 -27h13M424.8 -355.3v28.8m-6.5 0h13m-13 -28.8h13M463.4 -374.8v29.8m-6.5 0h13m-13 -29.8h13M502.1 -426.4v32.6m-6.5 0h13m-13 -32.6h13M540.7 -475.9v35.2m-6.5 0h13m-13 -35.2h13M579.3 -493.9v36.2m-6.5 0h13m-13 -36.2h13M617.9 -510v37.2m-6.5 0h13m-13 -37.2h13M656.5 -545v39m-6.5 0h13m-13 -39h13M695.2 -544.1v39m-6.5 0h13m-13 -39h13"/>
<path class="eb" d="M38.6 -12.8v10.4m-6.5 0h13m-13 -10.4h13M77.2 -22.1v11m-6.5 0h13m-13 -11h13M115.9 -29.6v11.4m-6.5 0h13m-13 -11.4h13M154.5 -34.5v11.6m-6.5 0h13m-13 -11.6h13M193.1 -52.1v12.6m-6.5 0h13m-13 -12.6h13M231.7 -55v12.6m-6.5 0h13m-13 -12.6h13M270.3 -78.6v14m-6.5 0h13m-13 -14h13M309 -84.5v14.2m-6.5 0h13m-13 -14.2h13M347.6 -88.5v14.4m-6.5 0h13m-13 -14.4h13M386.2 -102.6v15.2m-6.5 0h13m-13 -15.2h13M424.8 -107.1v15.4m-6.5 0h13m-13 -15.4h13M463.4 -107.1v15.4m-6.5 0h13m-13 -15.4h13M502.1 -143.6v17.4m-6.5 0h13m-13 -17.4h13M540.7 -158.6v18.2m-6.5 0h13m-13 -18.2h13M579.3 -160.7v18.4m-6.5 0h13m-13 -18.4h13M617.9 -169.6v18.8m-6.5 0h13m-13 -18.8h13M656.5 -181.1v19.4m-6.5 0h13m-13 -19.4h13M695.2 -192.7v20m-6.5 0h13m-13 -20h13"/>
<g fill="url(#gb)"><circle cx="38.6" cy="-14.4" r="7.5"/><circle cx="77.2" cy="-57" r="7.5"/><circle cx="115.9" cy="-86.2" r="7.5"/><circle cx="154.5" cy="-116.9" r="7.5"/><circle cx="193.1" cy="-154.4" r="7.5"/><circle cx="231.7" cy="-207" r="7.5"/><circle cx="270.3" cy="-226.5" r="7.5"/><circle cx="309" cy="-243" r="7.5"/><circle cx="347.6" cy="-304.4" r="7.5"/><circle cx="386.2" cy="-307.8" r="7.5"/><circle cx="424.8" cy="-340.9" r="7.5"/><circle cx="463.4" cy="-359.9" r="7.5"/><circle cx="502.1" cy="-410.1" r="7.5"/><circle cx="540.7" cy="-458.3" r="7.5"/><circle cx="579.3" cy="-475.8" r="7.5"/><circle cx="617.9" cy="-491.4" r="7.5"/><circle cx="656.5" cy="-525.5" r="7.5"/><circle cx="695.2" cy="-524.6" r="7.5"/></g>
<g fill="url(#gr)"><circle cx="38.6" cy="-7.6" r="7.5"/><circle cx="77.2" cy="-16.6" r="7.5"/><circle cx="115.9" cy="-23.9" r="7.5"/><circle cx="154.5" cy="-28.7" r="7.5"/><circle cx="193.1" cy="-45.8" r="7.5"/><circle cx="231.7" cy="-48.7" r="7.5"/><circle cx="270.3" cy="-71.6" r="7.5"/><circle cx="309" cy="-77.4" r="7.5"/><circle cx="347.6" cy="-81.3" r="7.5"/><circle cx="386.2" cy="-95" r="7.5"/><circle cx="424.8" cy="-99.4" r="7.5"/><circle cx="463.4" cy="-99.4" r="7.5"/><circle cx="502.1" cy="-134.9" r="7.5"/><circle cx="540.7" cy="-149.5" r="7.5"/><circle cx="579.3" cy="-151.5" r="7.5"/><circle cx="617.9" cy="-160.2" r="7.5"/><circle cx="656.5" cy="-171.4" r="7.5"/><circle cx="695.2" cy="-182.7" r="7.5"/></g>
</g>
</svg>
</body></html>
